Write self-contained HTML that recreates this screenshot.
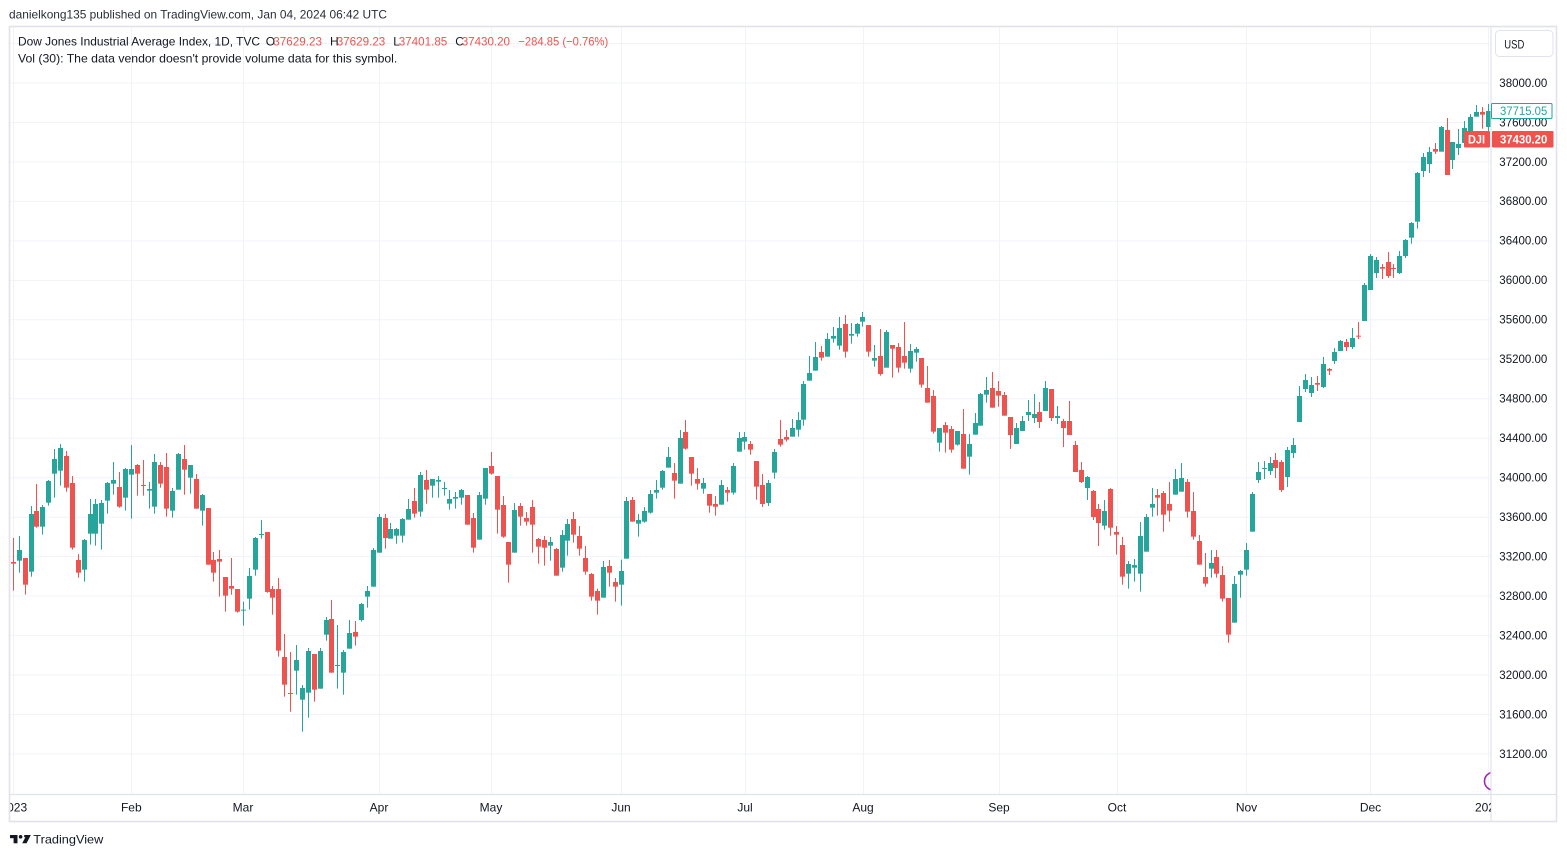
<!DOCTYPE html>
<html><head><meta charset="utf-8">
<style>
html,body{margin:0;padding:0;background:#fff;width:1567px;height:857px;overflow:hidden;}
svg{display:block;font-family:"Liberation Sans",Arial,sans-serif;}
</style></head><body>
<svg id="chart" width="1567" height="857" viewBox="0 0 1567 857" xmlns="http://www.w3.org/2000/svg">
<defs>
<clipPath id="plot"><rect x="10" y="27" width="1481" height="767"/></clipPath>
<clipPath id="taxis"><rect x="10" y="795" width="1481" height="26"/></clipPath>
</defs>
<rect width="1567" height="857" fill="#fff"/>

<text x="9" y="18.3" font-size="12" fill="#2a2e39" textLength="378" lengthAdjust="spacingAndGlyphs">danielkong135 published on TradingView.com, Jan 04, 2024 06:42 UTC</text>

<g stroke="#f0f3fa" stroke-width="1" fill="none">
<line x1="10" x2="1491" y1="43.5" y2="43.5"/>
<line x1="10" x2="1491" y1="83" y2="83"/>
<line x1="10" x2="1491" y1="122.5" y2="122.5"/>
<line x1="10" x2="1491" y1="162" y2="162"/>
<line x1="10" x2="1491" y1="201.4" y2="201.4"/>
<line x1="10" x2="1491" y1="240.9" y2="240.9"/>
<line x1="10" x2="1491" y1="280.4" y2="280.4"/>
<line x1="10" x2="1491" y1="319.8" y2="319.8"/>
<line x1="10" x2="1491" y1="359.3" y2="359.3"/>
<line x1="10" x2="1491" y1="398.8" y2="398.8"/>
<line x1="10" x2="1491" y1="438.2" y2="438.2"/>
<line x1="10" x2="1491" y1="477.7" y2="477.7"/>
<line x1="10" x2="1491" y1="517.2" y2="517.2"/>
<line x1="10" x2="1491" y1="556.6" y2="556.6"/>
<line x1="10" x2="1491" y1="596.1" y2="596.1"/>
<line x1="10" x2="1491" y1="635.6" y2="635.6"/>
<line x1="10" x2="1491" y1="675" y2="675"/>
<line x1="10" x2="1491" y1="714.5" y2="714.5"/>
<line x1="10" x2="1491" y1="754" y2="754"/>
<line y1="27" y2="794" x1="13.5" x2="13.5"/>
<line y1="27" y2="794" x1="131.5" x2="131.5"/>
<line y1="27" y2="794" x1="243.5" x2="243.5"/>
<line y1="27" y2="794" x1="379.5" x2="379.5"/>
<line y1="27" y2="794" x1="491.5" x2="491.5"/>
<line y1="27" y2="794" x1="621.5" x2="621.5"/>
<line y1="27" y2="794" x1="745.5" x2="745.5"/>
<line y1="27" y2="794" x1="863.5" x2="863.5"/>
<line y1="27" y2="794" x1="999.5" x2="999.5"/>
<line y1="27" y2="794" x1="1117.5" x2="1117.5"/>
<line y1="27" y2="794" x1="1246.5" x2="1246.5"/>
<line y1="27" y2="794" x1="1370.5" x2="1370.5"/>
<line y1="27" y2="794" x1="1488.5" x2="1488.5"/>
</g>

<g id="candles" clip-path="url(#plot)"></g>

<g clip-path="url(#plot)">
<circle cx="1493.5" cy="781.2" r="9" fill="none" stroke="#9c27b0" stroke-width="1.6"/>
</g>

<g font-size="12">
<text x="18" y="45.3" fill="#131722" textLength="242" lengthAdjust="spacingAndGlyphs">Dow Jones Industrial Average Index, 1D, TVC</text>
<text x="265.7" y="45.3" fill="#131722">O</text>
<text x="273.3" y="45.3" fill="#ef5350" textLength="48.7" lengthAdjust="spacingAndGlyphs">37629.23</text>
<text x="330" y="45.3" fill="#131722">H</text>
<text x="336.7" y="45.3" fill="#ef5350" textLength="48.6" lengthAdjust="spacingAndGlyphs">37629.23</text>
<text x="393.3" y="45.3" fill="#131722">L</text>
<text x="398.7" y="45.3" fill="#ef5350" textLength="48.6" lengthAdjust="spacingAndGlyphs">37401.85</text>
<text x="455.3" y="45.3" fill="#131722">C</text>
<text x="461.7" y="45.3" fill="#ef5350" textLength="48.3" lengthAdjust="spacingAndGlyphs">37430.20</text>
<text x="518.3" y="45.3" fill="#ef5350" textLength="90" lengthAdjust="spacingAndGlyphs">−284.85 (−0.76%)</text>
<text x="18" y="62.3" fill="#131722" textLength="379.3" lengthAdjust="spacingAndGlyphs">Vol (30): The data vendor doesn't provide volume data for this symbol.</text>
</g>

<rect x="1491.5" y="27" width="65" height="794" fill="#fff"/>
<rect x="10" y="795" width="1546" height="26" fill="#fff"/>
<line x1="1491" y1="26" x2="1491" y2="822" stroke="#e0e3eb" stroke-width="1.2"/>
<line x1="9" y1="794.5" x2="1557" y2="794.5" stroke="#e0e3eb" stroke-width="1.2"/>

<g font-size="12" fill="#131722">
<text x="1499.3" y="86.8" textLength="48" lengthAdjust="spacingAndGlyphs">38000.00</text>
<text x="1499.3" y="126.3" textLength="48" lengthAdjust="spacingAndGlyphs">37600.00</text>
<text x="1499.3" y="165.8" textLength="48" lengthAdjust="spacingAndGlyphs">37200.00</text>
<text x="1499.3" y="205.2" textLength="48" lengthAdjust="spacingAndGlyphs">36800.00</text>
<text x="1499.3" y="244.7" textLength="48" lengthAdjust="spacingAndGlyphs">36400.00</text>
<text x="1499.3" y="284.2" textLength="48" lengthAdjust="spacingAndGlyphs">36000.00</text>
<text x="1499.3" y="323.6" textLength="48" lengthAdjust="spacingAndGlyphs">35600.00</text>
<text x="1499.3" y="363.1" textLength="48" lengthAdjust="spacingAndGlyphs">35200.00</text>
<text x="1499.3" y="402.6" textLength="48" lengthAdjust="spacingAndGlyphs">34800.00</text>
<text x="1499.3" y="442" textLength="48" lengthAdjust="spacingAndGlyphs">34400.00</text>
<text x="1499.3" y="481.5" textLength="48" lengthAdjust="spacingAndGlyphs">34000.00</text>
<text x="1499.3" y="521" textLength="48" lengthAdjust="spacingAndGlyphs">33600.00</text>
<text x="1499.3" y="560.4" textLength="48" lengthAdjust="spacingAndGlyphs">33200.00</text>
<text x="1499.3" y="599.9" textLength="48" lengthAdjust="spacingAndGlyphs">32800.00</text>
<text x="1499.3" y="639.4" textLength="48" lengthAdjust="spacingAndGlyphs">32400.00</text>
<text x="1499.3" y="678.8" textLength="48" lengthAdjust="spacingAndGlyphs">32000.00</text>
<text x="1499.3" y="718.3" textLength="48" lengthAdjust="spacingAndGlyphs">31600.00</text>
<text x="1499.3" y="757.8" textLength="48" lengthAdjust="spacingAndGlyphs">31200.00</text>
</g>

<rect x="1495.5" y="30.5" width="57.5" height="26" rx="4" fill="#fff" stroke="#e0e3eb" stroke-width="1"/>
<text x="1504.3" y="48.5" font-size="12" fill="#131722" textLength="20" lengthAdjust="spacingAndGlyphs">USD</text>

<rect x="1491.5" y="103.5" width="60.5" height="15" fill="#fff" stroke="#26a69a" stroke-width="1" rx="1"/>
<text x="1500" y="115.2" font-size="12" fill="#26a69a" textLength="47.3" lengthAdjust="spacingAndGlyphs">37715.05</text>
<rect x="1464" y="131" width="26" height="16.5" fill="#ef5350" rx="1"/>
<text x="1468" y="143.4" font-size="12" font-weight="bold" fill="#fff" textLength="17" lengthAdjust="spacingAndGlyphs">DJI</text>
<rect x="1492" y="131" width="61.5" height="16.5" fill="#ef5350" rx="1"/>
<text x="1500" y="143.4" font-size="12" font-weight="bold" fill="#fff" textLength="47.3" lengthAdjust="spacingAndGlyphs">37430.20</text>

<g font-size="12" fill="#131722" text-anchor="middle" clip-path="url(#taxis)">
<text x="13.8" y="811.7">2023</text>
<text x="131.3" y="811.7">Feb</text>
<text x="243" y="811.7">Mar</text>
<text x="379" y="811.7">Apr</text>
<text x="491" y="811.7">May</text>
<text x="621" y="811.7">Jun</text>
<text x="745" y="811.7">Jul</text>
<text x="863" y="811.7">Aug</text>
<text x="999" y="811.7">Sep</text>
<text x="1117" y="811.7">Oct</text>
<text x="1246.5" y="811.7">Nov</text>
<text x="1370.5" y="811.7">Dec</text>
<text x="1488.3" y="811.7">2024</text>
</g>

<rect x="9.5" y="26.5" width="1547" height="795" fill="none" stroke="#e0e3eb" stroke-width="1.6"/>

<g fill="#131722">
<rect x="10" y="835" width="7.5" height="3.2"/>
<rect x="13.6" y="835" width="3.9" height="8.3"/>
<circle cx="20.6" cy="836.8" r="1.8"/>
<polygon points="24.2,835 30.8,835 26.6,843.3 22.2,843.3 25.4,837.2 24.2,837.2"/>
</g>
<text x="33.3" y="843.3" font-size="12" fill="#131722" textLength="70" lengthAdjust="spacingAndGlyphs">TradingView</text>
</svg>

<script>
(function(){
var segs=[
[435,3,"r 381 386 309 467;g 345 377 303 413;r 369 449 369 479;g 237 410 213 425;r 228 275 147 278;g 216 275 210 299;g 138 203 135 212;g 72 116 42 188;g 39 107 27 152;r 63 158 48 170;r 144 338 123 344;r 375 413 357 428;g 315 404 312 440;g 237 296 192 329;g 207 296 192 332;g 204 266 195 344;g 144 197 141 236;g 135 146 81 179;r 156 215 111 218;g 102 188 99 227;g 102 119 30 251;r 90 116 87 182;r 150 153 75 182;g 162 167 141 221;g 81 215 57 236;r 90 146 81 158;r 96 221 54 245;g 168 227 159 248;g 57 164 54 164;r 72 104 30 179;g 90 128 90 176;r 132 221 117 221;g 180 227 177 272;r 219 389 219 389;r 375 413 351 440;r 372 380 345 485;r 426 482 426 530;r 453 461 369 479;r 462 530 462 533;g 524 527 500 572;g 423 491 399 524;g 309 404 306 422"],
[440,3,"g 282 285 240 296;r 276 456 276 458;r 447 473 438 524;r 447 632 414 650;r 651 734 582 770;r 759 761 636 815;g 660 692 615 764;g 744 779 735 875;g 633 758 624 833;r 642 749 642 785;g 633 746 624 746;g 540 584 531 602;r 537 698 480 698;g 675 677 555 746;g 636 698 630 764;g 579 626 540 626;r 576 590 543 617;g 492 540 489 545;g 453 470 438 503;g 330 440 324 440;g 231 338 222 338;r 234 294 222 326;g 267 296 249 296;g 267 287 264 311;g 237 287 234 308;g 207 239 177 239;r 183 221 144 233;g 105 215 96 230;r 120 149 90 191;g 117 137 117 173;g 120 125 108 173;g 144 146 126 167;g 177 191 150 209;g 171 176 156 206;g 150 173 147 194;r 165 254 165 254;r 234 323 219 338;g 165 299 156 299;g 84 176 84 194;r 78 101 36 104;r 108 209 108 281;r 195 290 168 293"],
[415,3,"r 381 449 381 503;g 285 413 264 413;r 273 305 264 332;r 309 320 291 332;r 276 329 255 413;r 372 395 369 446;r 375 398 363 452;g 381 392 366 437;r 402 482 399 482;g 360 458 345 470;g 327 377 312 422;r 312 359 291 383;r 363 401 333 422;r 429 470 393 479;r 477 545 474 557;r 528 557 521 599;g 456 548 438 548;r 453 473 435 515;r 501 515 489 560;g 468 509 434 572;g 258 431 246 431;r 255 320 246 320;g 315 326 297 365;g 288 320 276 323;g 237 293 225 296;g 225 233 195 251;g 168 218 165 224;g 126 158 96 158;r 174 197 144 251;g 69 206 45 206;r 51 101 15 104;r 126 176 126 212;r 192 206 159 224;g 204 221 189 236;r 237 272 237 293;r 267 275 243 302;g 210 269 195 269;r 225 233 216 260;g 153 233 144 239;g 69 110 51 110;g 66 80 51 104;r 87 104 78 119;r 138 215 138 254"],
[0,1,"r 485 504 474 507;g 483 503 480 506"],
[305,3,"g 441 503 432 521;r 402 419 345 425;r 396 404 375 410;g 369 395 342 395;g 345 374 321 395;g 237 344 228 362;g 204 227 153 227;g 156 197 111 197;r 141 158 123 167;g 102 155 84 155;g 93 101 66 113;g 69 122 36 134;r 57 140 30 158;g 87 92 54 116;g 57 86 54 95;g 36 50 21 65;r 60 140 60 155;g 159 167 120 185;r 153 207 72 212;g 81 188 75 188;r 120 131 120 218;r 126 188 114 203;r 153 173 51 191;g 138 191 117 203;g 132 143 126 170;r 159 239 159 248;r 249 293 183 293;r 273 380 255 386;g 369 413 369 440;r 360 383 351 443;r 372 434 363 443;g 378 419 378 422;r 387 491 312 491;g 417 455 387 509;g 354 389 324 389;g 267 362 264 362;g 255 269 216 293;r 249 308 201 308;r 258 272 228 305;r 270 332 261 332"],
[375,3,"r 126 180 126 222;g 159 207 144 207;g 138 168 123 168;g 111 120 75 138;g 117 129 57 144;r 111 141 81 159;g 39 108 18 108;r 42 129 42 138;g 123 129 93 147;r 138 159 132 216;r 138 180 78 180;r 210 291 198 291;r 285 321 261 324;g 306 339 303 375;r 348 426 345 435;r 402 444 387 513;g 408 452 375 464;r 342 458 339 482;r 471 479 453 539;r 510 605 486 629;g 567 596 558 641;g 570 578 552 620;g 483 596 441 650;g 426 530 417 530;g 387 398 339 425;r 360 368 342 422;r 354 419 348 470;r 387 407 321 440;g 312 359 282 359;g 309 350 264 350;r 321 410 312 428;r 408 485 351 494;r 498 569 480 569;r 606 626 534 635;g 564 581 525 608;r 546 596 525 608;r 600 671 573 680;r 669 779 669 803;g 627 743 603 743;g 588 599 585 668;g 525 584 504 602;g 357 470 351 470"],
[95,3,"g 1131 1155 1101 1164;g 1119 1122 1098 1152;g 1104 1128 1086 1140;r 1095 1119 1074 1149;r 1101 1185 1095 1191;g 1065 1146 1056 1176;g 1050 1074 1029 1089;g 903 981 873 981;g 855 882 837 891;g 870 894 846 906;r 864 869 843 888;g 807 876 786 879;r 822 827 819 840;g 771 798 759 807;g 738 768 735 768;r 741 756 732 768;g 729 756 699 762;r 722 724 681 732;g 570 678 564 678;g 483 585 477 585;g 495 534 486 549;r 516 521 507 552;r 501 543 471 549;r 519 522 507 549;g 483 534 468 537;g 435 483 432 489;g 384 428 381 446;g 234 380 231 401;g 186 228 174 246;g 171 207 156 234;r 162 170 144 177;g 96 170 93 170;r 105 240 69 240;g 141 195 141 222;g 147 159 102 180;g 99 144 78 144;g 66 108 57 108;g 51 65 30 65;r 51 59 36 101;g 48 96 27 108"]
];
var NS="http://www.w3.org/2000/svg";
var g=document.getElementById("candles");
var idx=0;
function rect(x,y,w,h,f){var r=document.createElementNS(NS,"rect");r.setAttribute("x",x);r.setAttribute("y",y);r.setAttribute("width",w);r.setAttribute("height",Math.max(h,1));r.setAttribute("fill",f);g.appendChild(r);}
segs.forEach(function(s){
  var off=s[0],sc=s[1];
  s[2].split(";").forEach(function(c){
    var p=c.trim().split(/\s+/);
    var col=p[0]==="g"?"#26a69a":"#ef5350";
    var bt=off+(+p[1])/sc,bb=off+(+p[2])/sc,wt=off+(+p[3])/sc,wb=off+(+p[4])/sc;
    var cx=13.3+idx*5.9;
    var xf=Math.floor(cx);
    rect(xf,wt,1,wb-wt,col);
    rect(xf-2,bt,5,bb-bt,col);
    idx++;
  });
});
})();
</script>
</body></html>
